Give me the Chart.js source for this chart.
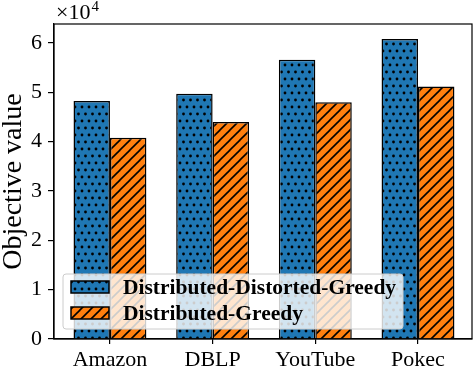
<!DOCTYPE html>
<html>
<head>
<meta charset="utf-8">
<script src="https://cdn.jsdelivr.net/npm/chart.js@4/dist/chart.umd.min.js"></script>
<style>
html,body{margin:0;padding:0;background:#fff;}
#wrap{width:474px;height:366px;position:relative;}
</style>
</head>
<body>
<div id="wrap"><canvas id="c" width="474" height="366"></canvas></div>
<script>
// ---- data ----
const categories = ["Amazon", "DBLP", "YouTube", "Pokec"];
const seriesNames = ["Distributed-Distorted-Greedy", "Distributed-Greedy"];
const distortedGreedy = [48250, 49700, 56600, 60800];
const distributedGreedy = [40800, 44000, 48000, 51200];
const yTicks = [0, 1, 2, 3, 4, 5, 6];
const yScaleFactor = 10000;
const yExponentLabel = "\u00d710";
const yExponent = "4";
const yTitle = "Objective value";

// ---- patterns ----
function dotPattern(bg) {
  const t = document.createElement('canvas');
  t.width = 7; t.height = 14;
  const g = t.getContext('2d');
  g.fillStyle = bg; g.fillRect(0, 0, 7, 14);
  g.fillStyle = '#000';
  [[1.5, 2], [5, 9]].forEach(p => { g.beginPath(); g.arc(p[0], p[1], 1.4, 0, Math.PI * 2); g.fill(); });
  return g.createPattern(t, 'repeat');
}
function hatchPattern(bg) {
  const s = 10;
  const t = document.createElement('canvas');
  t.width = s; t.height = s;
  const g = t.getContext('2d');
  g.fillStyle = bg; g.fillRect(0, 0, s, s);
  g.strokeStyle = '#000'; g.lineWidth = 1.6;
  [[0, s, s, 0], [-s / 2, s / 2, s / 2, -s / 2], [s / 2, s * 1.5, s * 1.5, s / 2]].forEach(l => {
    g.beginPath(); g.moveTo(l[0], l[1]); g.lineTo(l[2], l[3]); g.stroke();
  });
  return g.createPattern(t, 'repeat');
}
const blue = '#1f77b4', orange = '#ff7f0e';
const fills = [dotPattern(blue), hatchPattern(orange)];

const serif = "'Liberation Serif', 'DejaVu Serif', serif";
Chart.defaults.color = '#000';
Chart.defaults.font.family = serif;

const extras = {
  id: 'extras',
  afterDatasetsDraw(chart) {
    const ctx = chart.ctx, a = chart.chartArea;
    ctx.save();
    // frame
    ctx.strokeStyle = '#000'; ctx.lineWidth = 1.2;
    ctx.strokeRect(a.left, a.top, a.right - a.left, a.bottom - a.top);
    // exponent label
    ctx.fillStyle = '#000';
    ctx.textBaseline = 'alphabetic'; ctx.textAlign = 'left';
    ctx.font = "22px " + serif;
    ctx.fillText(yExponentLabel, a.left + 2, 19);
    const w = ctx.measureText(yExponentLabel).width;
    ctx.font = "15px " + serif;
    ctx.fillText(yExponent, a.left + 3 + w, 11);
    // legend
    const lx = 63, ly = 274, lw = 340, lh = 55, r = 3;
    ctx.beginPath();
    ctx.roundRect(lx, ly, lw, lh, r);
    ctx.fillStyle = 'rgba(255,255,255,0.8)';
    ctx.fill();
    ctx.strokeStyle = '#cccccc'; ctx.lineWidth = 1;
    ctx.stroke();
    ctx.font = "bold 21.5px " + serif;
    ctx.textBaseline = 'middle';
    chart.data.datasets.forEach((ds, i) => {
      const y = ly + 7 + i * 26;
      ctx.fillStyle = ds.backgroundColor;
      ctx.fillRect(71, y, 38, 12);
      ctx.strokeStyle = '#000'; ctx.lineWidth = 1.5;
      ctx.strokeRect(71, y, 38, 12);
      ctx.fillStyle = '#000';
      ctx.fillText(ds.label, 123, y + 7);
    });
    ctx.restore();
  }
};

const toPoints = vals => vals.map((v, i) => ({ x: i, y: v }));

new Chart(document.getElementById('c'), {
  type: 'bar',
  data: {
    datasets: [
      { label: seriesNames[0], data: toPoints(distortedGreedy), backgroundColor: fills[0], borderColor: '#000', borderWidth: 1.5 },
      { label: seriesNames[1], data: toPoints(distributedGreedy), backgroundColor: fills[1], borderColor: '#000', borderWidth: 1.5 }
    ]
  },
  options: {
    responsive: false,
    animation: false,
    devicePixelRatio: 1,
    layout: { padding: { top: 24, right: 2, left: 0, bottom: 0 } },
    plugins: { legend: { display: false }, tooltip: { enabled: false } },
    datasets: { bar: { categoryPercentage: 0.71, barPercentage: 1.0 } },
    scales: {
      x: {
        type: 'linear',
        offset: false,
        min: -0.545,
        max: 3.526,
        afterBuildTicks(s) { s.ticks = categories.map((c, i) => ({ value: i })); },
        grid: { display: true, offset: false, drawOnChartArea: false, drawTicks: true, tickLength: 5, color: '#000', lineWidth: 1.2 },
        border: { display: true, color: '#000', width: 1.2 },
        ticks: { font: { size: 22, family: serif }, padding: 3, color: '#000', maxRotation: 0, autoSkip: false,
                 callback: v => categories[v] },
        afterFit(s) { s.height = 27; }
      },
      y: {
        min: 0,
        max: 63850,
        afterBuildTicks(s) { s.ticks = yTicks.map(v => ({ value: v * yScaleFactor })); },
        grid: { display: true, drawOnChartArea: false, drawTicks: true, tickLength: 6, color: '#000', lineWidth: 1.2 },
        border: { display: true, color: '#000', width: 1.2 },
        ticks: { font: { size: 22, family: serif }, padding: 6, color: '#000',
                 callback: v => String(v / yScaleFactor) },
        title: { display: true, text: yTitle, font: { size: 28, family: serif, lineHeight: 1 }, color: '#000', padding: 0 },
        afterFit(s) { s.width = 54; }
      }
    }
  },
  plugins: [extras]
});
</script>
</body>
</html>
